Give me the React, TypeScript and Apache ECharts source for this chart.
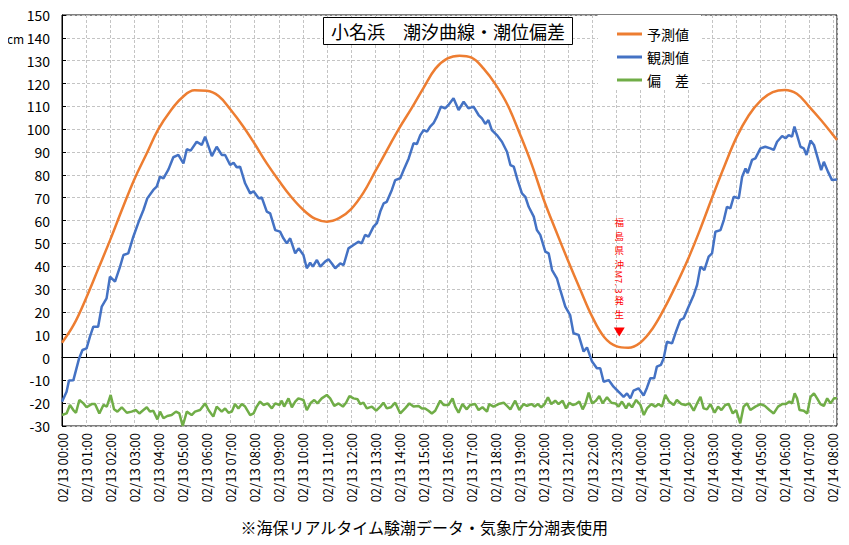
import React, { useEffect, useRef } from "react";
import * as echarts from "echarts";

// hours since 02/13 00:00, value (cm)
const predicted: [number, number][] = [
  [0, 6.5], [0.5, 14.6], [1, 26], [1.5, 38.7], [2, 51.5], [2.5, 65], [3, 78], [3.5, 89], [4, 100], [4.5, 108],
  [5, 114], [5.5, 117], [6, 116.8], [6.5, 114.5], [7, 108.5], [7.5, 101.5], [8, 93.5], [8.5, 85], [9, 77.5],
  [9.5, 70.5], [10, 64.8], [10.5, 60.8], [11, 59.5], [11.5, 61], [12, 65], [12.5, 72], [13, 81.5], [13.5, 91],
  [14, 100.5], [14.5, 109], [15, 118], [15.5, 126.5], [16, 131], [16.5, 132.2], [17, 131.3], [17.5, 126.5],
  [18, 119.5], [18.5, 110.5], [19, 98], [19.5, 84.5], [20, 69], [20.5, 55.5], [21, 42.5], [21.5, 30], [22, 18],
  [22.5, 9], [23, 5], [23.5, 4.3], [24, 6.5], [24.5, 12.5], [25, 21.5], [25.5, 32], [26, 43.5], [26.5, 56.5],
  [27, 70.5], [27.5, 84], [28, 96.5], [28.5, 106], [29, 112.5], [29.5, 116.2], [30, 117.2], [30.5, 115.5],
  [31, 110], [31.5, 104], [32, 97.5], [32.1667, 95.3],
];

const observed: [number, number][] = [
  [0, -19.4], [0.19, -15], [0.29, -10.1], [0.47, -10], [0.71, -0.4], [0.85, 3.3], [1.02, 4], [1.16, 9.1],
  [1.3, 13.5], [1.5, 13.5], [1.65, 22.3], [1.85, 25.9], [1.99, 35.4], [2.2, 33.2], [2.41, 39.8], [2.55, 44.9],
  [2.75, 45.6], [2.96, 52.9], [3.17, 59.1], [3.38, 64.6], [3.54, 69.7], [3.79, 73.4], [3.93, 74.8], [4.07, 79.2],
  [4.21, 78.5], [4.42, 82.4], [4.62, 87.7], [4.83, 88.7], [5.04, 85], [5.18, 91.2], [5.34, 90.6], [5.59, 94.5],
  [5.8, 93.1], [5.94, 96.7], [6.22, 88.2], [6.42, 92.3], [6.63, 88.7], [6.77, 88.7], [6.98, 84.3], [7.12, 85.3],
  [7.25, 83.3], [7.39, 83.6], [7.6, 76.3], [7.81, 71.9], [7.95, 72.8], [8.16, 69.7], [8.29, 70.1], [8.5, 63.9],
  [8.64, 63.1], [8.85, 55.8], [9.05, 55.1], [9.19, 52.2], [9.33, 50], [9.47, 52.2], [9.68, 45.6], [9.82, 47.8],
  [10.02, 44.9], [10.16, 39.1], [10.3, 41.5], [10.41, 39.8], [10.58, 42.7], [10.72, 39.8], [10.92, 42],
  [11.06, 43], [11.2, 41.2], [11.34, 39.1], [11.55, 41.2], [11.69, 40.5], [11.89, 47.8], [12.1, 49.3],
  [12.3, 50.7], [12.44, 50], [12.58, 53.7], [12.72, 52.9], [12.93, 57.3], [13.07, 58.8], [13.21, 63.9],
  [13.35, 67.5], [13.48, 68.2], [13.69, 73.4], [13.83, 77.7], [14.04, 78.5], [14.18, 82.1], [14.39, 87.2],
  [14.59, 93.8], [14.73, 93.5], [14.87, 97.4], [15.01, 99.6], [15.15, 98.9], [15.28, 101.1], [15.42, 102.6],
  [15.56, 105.5], [15.73, 109.9], [15.9, 109.1], [16.04, 110.6], [16.25, 113.5], [16.46, 108.4], [16.67, 112],
  [16.87, 109.1], [17.08, 109.9], [17.29, 106.2], [17.43, 104.7], [17.57, 102.3], [17.7, 104], [17.84, 99.6],
  [18.05, 97.4], [18.26, 94.5], [18.47, 90.1], [18.61, 84.3], [18.75, 83.6], [18.91, 77.7], [19.09, 71.9],
  [19.23, 70.4], [19.37, 66], [19.58, 61.7], [19.71, 55.8], [19.85, 53.7], [20.06, 46.4], [20.2, 45.6],
  [20.34, 38.3], [20.54, 34.7], [20.68, 29.6], [20.89, 22.3], [21.09, 18.6], [21.23, 10.6], [21.44, 9.9],
  [21.65, 2.6], [21.79, 4.4], [22.0, -1.8], [22.2, -4.7], [22.34, -4.7], [22.48, -10.6], [22.69, -9.9],
  [22.89, -12.8], [23.1, -15], [23.17, -15.7], [23.31, -17.2], [23.45, -15.7], [23.59, -17.9], [23.72, -14.5],
  [23.93, -13.5], [24.14, -16.6], [24.28, -13.2], [24.42, -9.1], [24.58, -9.1], [24.69, -4], [24.86, -3.2],
  [24.97, -0.4], [25.11, 6.9], [25.32, 6.2], [25.46, 10.6], [25.66, 16.4], [25.8, 17.2], [26.01, 22.3],
  [26.22, 27.4], [26.36, 31.8], [26.5, 39.8], [26.66, 38.3], [26.84, 44.2], [26.98, 45.6], [27.12, 55.1],
  [27.33, 55.8], [27.47, 60.2], [27.6, 66], [27.74, 65.3], [27.88, 70.4], [28.09, 69.7], [28.23, 79.2],
  [28.37, 82.8], [28.46, 80.7], [28.64, 86.5], [28.78, 87.2], [28.99, 91.6], [29.19, 92.3], [29.4, 91.6],
  [29.54, 90.9], [29.68, 94.5], [29.89, 97], [30.03, 96], [30.16, 97.4], [30.3, 96.7], [30.4, 101.1],
  [30.51, 97.4], [30.65, 92.3], [30.79, 91.6], [30.9, 88.7], [31.07, 95], [31.21, 93.1], [31.35, 88],
  [31.51, 82.1], [31.62, 85.7], [31.79, 81.4], [31.96, 77.7], [32.1667, 78],
];

const deviation: [number, number][] = [
  [0, -25.2], [0.19, -24.5], [0.33, -20.8], [0.47, -23], [0.58, -24.2], [0.72, -18.6], [0.89, -20.1],
  [1.02, -21.8], [1.23, -20.4], [1.37, -20.4], [1.55, -24.5], [1.72, -20.8], [1.86, -21.5], [2.02, -16.4],
  [2.16, -22.7], [2.3, -23.7], [2.48, -21.8], [2.69, -24.2], [2.89, -23.7], [3.07, -23], [3.21, -24.5],
  [3.38, -23], [3.52, -21.8], [3.65, -23.7], [3.79, -23.3], [3.96, -27.1], [4.07, -23.7], [4.21, -26.6],
  [4.37, -25.6], [4.55, -25.2], [4.73, -23.7], [4.87, -24.5], [5.01, -30], [5.18, -23.7], [5.38, -25.2],
  [5.52, -23.7], [5.73, -23], [5.94, -20.1], [6.08, -23], [6.28, -25.9], [6.42, -21.5], [6.63, -23.7],
  [6.77, -22.3], [6.91, -24.2], [7.05, -23.7], [7.18, -20.4], [7.32, -22.3], [7.46, -20.4], [7.6, -21.5],
  [7.81, -25.2], [7.95, -24.5], [8.08, -21.5], [8.22, -19.3], [8.36, -20.8], [8.53, -20.1], [8.71, -22.3],
  [8.85, -20.1], [9.03, -20.8], [9.12, -18.9], [9.22, -21.5], [9.4, -17.9], [9.54, -21.8], [9.68, -19.3],
  [9.81, -17.9], [10.02, -18.6], [10.16, -23], [10.33, -19.8], [10.47, -18.6], [10.6, -20.1], [10.78, -17.9],
  [10.99, -16.4], [11.13, -17.9], [11.3, -21.2], [11.48, -20.1], [11.66, -21.5], [11.79, -19.8], [11.93, -16.9],
  [12.1, -17.9], [12.27, -18.3], [12.38, -20.4], [12.51, -19.8], [12.65, -22.3], [12.86, -21.5], [13.04, -23.3],
  [13.21, -21.5], [13.34, -19.8], [13.48, -22.3], [13.65, -21.8], [13.83, -19.8], [14.04, -24.5], [14.24, -22.3],
  [14.42, -20.1], [14.59, -21.5], [14.8, -21.2], [14.94, -22.3], [15.07, -22.3], [15.21, -23.3], [15.35, -24.5],
  [15.49, -23.3], [15.7, -18.9], [15.84, -20.8], [16.04, -20.8], [16.21, -17.9], [16.32, -21.5], [16.46, -24.2],
  [16.62, -20.4], [16.8, -22.7], [16.94, -20.8], [17.15, -20.4], [17.29, -23], [17.45, -21.8], [17.64, -23.7],
  [17.73, -20.4], [17.91, -21.5], [18.12, -20.4], [18.33, -19.8], [18.47, -21.2], [18.61, -22.7], [18.81, -18.9],
  [18.98, -23], [19.16, -20.4], [19.3, -21.2], [19.48, -20.4], [19.62, -21.5], [19.75, -20.4], [19.89, -21.8],
  [20.03, -20.4], [20.17, -17.4], [20.31, -20.4], [20.47, -18.9], [20.61, -20.4], [20.78, -18.9], [20.92, -22.3],
  [21.06, -19.8], [21.2, -20.8], [21.33, -20.4], [21.47, -19.3], [21.61, -22.7], [21.72, -20.4], [21.86, -15.4],
  [22.0, -20.1], [22.16, -18.9], [22.3, -16.9], [22.44, -20.1], [22.62, -17.4], [22.8, -19.8], [22.97, -20.1],
  [23.1, -21.5], [23.24, -19.3], [23.41, -22.3], [23.52, -20.1], [23.66, -21.8], [23.83, -18.6], [24.01, -20.8],
  [24.15, -25.2], [24.28, -22.3], [24.46, -20.4], [24.63, -21.5], [24.76, -20.4], [24.9, -21.5], [25.04, -16.4],
  [25.2, -19.3], [25.39, -20.8], [25.52, -18.6], [25.71, -20.4], [25.87, -20.8], [26.04, -20.1], [26.22, -23.3],
  [26.36, -20.1], [26.5, -17.2], [26.63, -22.3], [26.77, -22.7], [26.91, -20.4], [27.09, -24.2], [27.23, -21.5],
  [27.37, -23], [27.53, -20.8], [27.67, -20.4], [27.84, -24.5], [27.98, -23], [28.15, -28.8], [28.29, -21.5],
  [28.43, -20.1], [28.57, -23], [28.78, -21.5], [28.99, -20.4], [29.17, -21.2], [29.36, -23], [29.54, -24.5],
  [29.72, -21.5], [29.89, -20.4], [30.05, -20.4], [30.19, -19.3], [30.3, -20.1], [30.41, -15.7], [30.51, -17.9],
  [30.61, -23], [30.79, -23.3], [30.93, -24.5], [31.07, -17.2], [31.21, -15.7], [31.34, -17.9], [31.48, -20.4],
  [31.62, -21.2], [31.76, -17.9], [31.9, -20.1], [32.04, -17.9], [32.1667, -17.9],
];

const timeLabels: string[] = [
  "02/13 00:00", "02/13 01:00", "02/13 02:00", "02/13 03:00", "02/13 04:00", "02/13 05:00", "02/13 06:00",
  "02/13 07:00", "02/13 08:00", "02/13 09:00", "02/13 10:00", "02/13 11:00", "02/13 12:00", "02/13 13:00",
  "02/13 14:00", "02/13 15:00", "02/13 16:00", "02/13 17:00", "02/13 18:00", "02/13 19:00", "02/13 20:00",
  "02/13 21:00", "02/13 22:00", "02/13 23:00", "02/14 00:00", "02/14 01:00", "02/14 02:00", "02/14 03:00",
  "02/14 04:00", "02/14 05:00", "02/14 06:00", "02/14 07:00", "02/14 08:00",
];

const seriesNames = ["予測値", "観測値", "偏　差"];
const seriesColors = ["#ED7D31", "#4472C4", "#70AD47"];

// earthquake annotation: time (h), marker level and the vertical text pieces
const quakeTime = 23.13;
const quakeMarker = 11.2;
const quakeChars: { text: string; value: number; rotated: boolean }[] = [
  { text: "福\n島\n県\n沖", value: 50.15, rotated: false },
  { text: "M7. 3", value: 33.1, rotated: true },
  { text: "発\n生", value: 22.0, rotated: false },
];

const titleText = "小名浜　潮汐曲線・潮位偏差";
const footText = "※海保リアルタイム験潮データ・気象庁分潮表使用";

const FONT = "'Noto Sans CJK JP', 'Noto Sans', sans-serif";

export default function App() {
  const ref = useRef<HTMLDivElement>(null);
  useEffect(() => {
    if (!ref.current) return;
    const chart = echarts.init(ref.current, null, { renderer: "svg" });
    const baseGraphic = [
      { type: "text", left: 7, top: 32, style: { text: "cm", fontSize: 12, fill: "#000", fontFamily: FONT } },
      {
        type: "text",
        left: "center",
        top: 519,
        style: { text: footText, fontSize: 16, fill: "#000", fontFamily: FONT },
      },
    ];
    chart.setOption({
      animation: false,
      backgroundColor: "#fff",
      textStyle: { fontFamily: FONT },
      title: {
        text: titleText,
        left: 323,
        top: 17,
        padding: [3, 8, 3, 8],
        borderWidth: 1,
        borderColor: "#000",
        backgroundColor: "#fff",
        textStyle: { fontSize: 18, fontWeight: "normal", color: "#000", fontFamily: FONT, lineHeight: 22 },
      },
      legend: {
        orient: "vertical",
        left: 598,
        top: 15,
        padding: [12, 12, 2, 19],
        backgroundColor: "#fff",
        icon: "rect",
        itemWidth: 25,
        itemHeight: 3,
        itemGap: 9,
        textStyle: { fontSize: 14, color: "#000", fontFamily: FONT, lineHeight: 14 },
        data: seriesNames,
      },
      grid: {
        left: 62,
        right: 12,
        top: 15,
        bottom: 119,
        show: true,
        borderColor: "#000",
        borderWidth: 1,
      },
      xAxis: {
        type: "value",
        min: 0,
        max: 32 + 10 / 60,
        interval: 1,
        axisLine: { lineStyle: { color: "#000", width: 1 } },
        axisTick: { inside: true, length: 4, lineStyle: { color: "#000" } },
        splitLine: { show: true, lineStyle: { color: "#c4c4c4", type: [3, 2], width: 1 } },
        axisLabel: {
          rotate: 90,
          margin: 7,
          fontSize: 13,
          color: "#000",
          fontFamily: FONT,
          showMaxLabel: false,
          formatter: (v: number) => (Number.isInteger(v) && timeLabels[v] ? timeLabels[v] : ""),
        },
      },
      yAxis: {
        type: "value",
        min: -30,
        max: 150,
        interval: 10,
        axisLine: { show: true, lineStyle: { color: "#000", width: 1 } },
        axisTick: { show: true, inside: true, length: 4, lineStyle: { color: "#000" } },
        splitLine: { show: true, lineStyle: { color: "#c4c4c4", type: [3, 2], width: 1 } },
        axisLabel: { fontSize: 14, color: "#000", margin: 12, fontFamily: FONT },
      },
      graphic: baseGraphic,
      series: [
        {
          name: seriesNames[0],
          type: "line",
          data: predicted,
          symbol: "none",
          smooth: 0.4,
          z: 3,
          lineStyle: { color: seriesColors[0], width: 2.5 },
          itemStyle: { color: seriesColors[0] },
          markPoint: {
            silent: true,
            data: [
              {
                coord: [quakeTime, quakeMarker],
                symbol: "triangle",
                symbolRotate: 180,
                symbolSize: [11, 9],
                itemStyle: { color: "#ff0000" },
                label: { show: false },
              },
            ],
          },
        },
        {
          name: seriesNames[1],
          type: "line",
          data: observed,
          symbol: "none",
          z: 3,
          lineStyle: { color: seriesColors[1], width: 2.5 },
          itemStyle: { color: seriesColors[1] },
        },
        {
          name: seriesNames[2],
          type: "line",
          data: deviation,
          symbol: "none",
          z: 3,
          lineStyle: { color: seriesColors[2], width: 2.5 },
          itemStyle: { color: seriesColors[2] },
        },
      ],
    });
    const annot = quakeChars.map((c) => {
      const [px, py] = chart.convertToPixel({ gridIndex: 0 }, [quakeTime, c.value]) as number[];
      return {
        type: "text",
        x: px,
        y: py,
        rotation: c.rotated ? -Math.PI / 2 : 0,
        z: 10,
        style: {
          text: c.text,
          fontSize: 9.5,
          lineHeight: 14,
          fill: "#ff0000",
          fontFamily: FONT,
          align: "center",
          verticalAlign: "middle",
        },
      };
    });
    chart.setOption({ graphic: [...baseGraphic, ...annot] });
    return () => chart.dispose();
  }, []);
  return <div ref={ref} style={{ width: 849, height: 545, margin: -8 }} />;
}
